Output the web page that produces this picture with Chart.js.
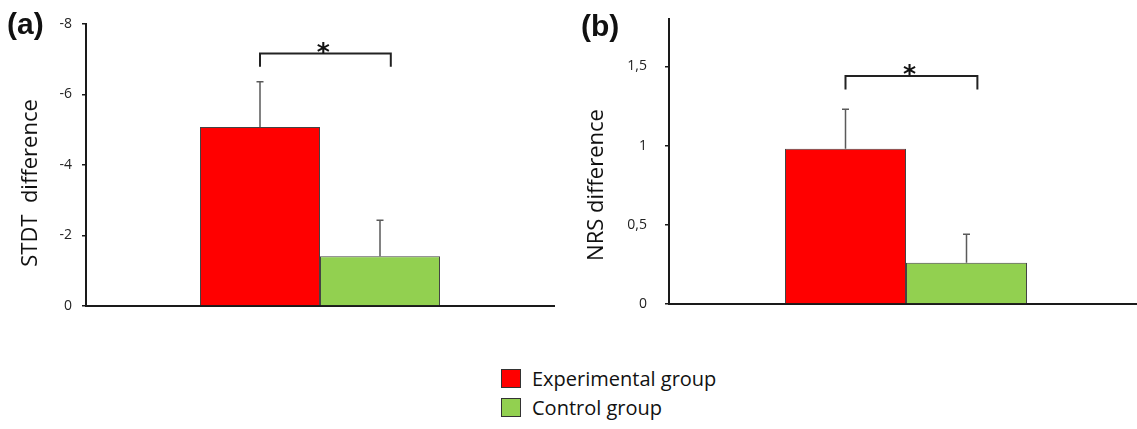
<!DOCTYPE html>
<html>
<head>
<meta charset="utf-8">
<script src="https://cdn.jsdelivr.net/npm/chart.js@4.4.0/dist/chart.umd.min.js"></script>
<style>
  body { margin: 0; background: #fff; }
  #page { position: relative; width: 1137px; height: 429px; overflow: hidden; font-family: "Open Sans", sans-serif; }
  #chartA { position: absolute; left: 0; top: 0; }
  #chartB { position: absolute; left: 570px; top: 0; }
  .tag { position: absolute; font: bold 30px "Liberation Sans", Arial, sans-serif; line-height: 30px; color: #111; }
  #legend { position: absolute; left: 501px; top: 369px; }
  .item { display: flex; align-items: center; height: 19px; margin-bottom: 10px; }
  .box { width: 18px; height: 17px; border: 1px solid #333; margin-right: 11px; }
  .item span { font-size: 20px; color: #111; }
</style>
</head>
<body>
<div id="page">
  <canvas id="chartA" width="560" height="330"></canvas>
  <canvas id="chartB" width="573" height="330"></canvas>
  <div class="tag" style="left:7px;top:9px">(a)</div>
  <div class="tag" style="left:581px;top:11px">(b)</div>
  <div id="legend"></div>
</div>
<script>
// one unnamed category, two groups
const categories = [''];
const seriesNames = ['Experimental group', 'Control group'];
const seriesColors = ['#ff0000', '#92d050'];

// (a) STDT difference, mean and SE (upward)
const stdtMeans = [-5.08, -1.41];
const stdtErrors = [1.28, 1.02];
const stdtTicks = [0, -2, -4, -6, -8];

// (b) NRS difference
const nrsMeans = [0.98, 0.26];
const nrsErrors = [0.25, 0.18];
const nrsTicks = [0, 0.5, 1, 1.5];

const axisColor = '#1a1a1a';
const tickFont = { family: 'Open Sans', size: 14 };

const errorBars = {
  id: 'errorBars',
  afterDatasetsDraw(chart) {
    const { ctx, scales: { y } } = chart;
    ctx.save();
    ctx.strokeStyle = '#5a5a5a';
    ctx.lineWidth = 1.5;
    chart.data.datasets.forEach((ds, i) => {
      chart.getDatasetMeta(i).data.forEach((bar, j) => {
        const v = ds.data[j];
        const top = y.getPixelForValue(v + Math.sign(v) * ds.errors[j]);
        ctx.beginPath();
        ctx.moveTo(bar.x, bar.y);
        ctx.lineTo(bar.x, top);
        ctx.moveTo(bar.x - 3.5, top);
        ctx.lineTo(bar.x + 3.5, top);
        ctx.stroke();
      });
    });
    ctx.restore();
  }
};

const bracket = {
  id: 'bracket',
  afterDraw(chart, args, o) {
    const { ctx, scales: { y } } = chart;
    const a = chart.getDatasetMeta(0).data[0];
    const b = chart.getDatasetMeta(1).data[0];
    const x1 = a.x, x2 = b.x + b.width * 0.09;
    const yl = y.getPixelForValue(o.level), yd = y.getPixelForValue(o.drop);
    ctx.save();
    ctx.strokeStyle = '#222';
    ctx.lineWidth = 2;
    ctx.beginPath();
    ctx.moveTo(x1, yd);
    ctx.lineTo(x1, yl);
    ctx.lineTo(x2, yl);
    ctx.lineTo(x2, yd);
    ctx.stroke();
    ctx.fillStyle = '#111';
    ctx.font = 'bold 25px "DejaVu Sans"';
    ctx.textAlign = 'center';
    ctx.textBaseline = 'alphabetic';
    ctx.fillText('*', (x1 + x2) / 2 - 2, yl + 6);
    ctx.restore();
  }
};

const yTitle = {
  id: 'yTitle',
  afterDraw(chart, args, o) {
    const ctx = chart.ctx;
    ctx.save();
    ctx.translate(o.x, o.y);
    ctx.rotate(-Math.PI / 2);
    ctx.font = '22px "Open Sans"';
    ctx.fillStyle = '#111';
    ctx.textAlign = 'center';
    ctx.textBaseline = 'middle';
    ctx.fillText(o.text, 0, 0);
    ctx.restore();
  }
};

function makeChart(id, means, errors, ticks, opts) {
  return new Chart(document.getElementById(id), {
    type: 'bar',
    data: {
      labels: categories,
      datasets: seriesNames.map((name, i) => ({
        label: name,
        data: [means[i]],
        errors: [errors[i]],
        backgroundColor: seriesColors[i],
        borderColor: '#444',
        borderWidth: 1,
        barPercentage: 1,
        categoryPercentage: opts.groupShare
      }))
    },
    options: {
      responsive: false,
      animation: false,
      layout: { autoPadding: false, padding: { top: opts.top, right: opts.right, left: 0, bottom: 0 } },
      plugins: {
        legend: { display: false },
        tooltip: { enabled: false },
        bracket: { level: opts.level, drop: opts.drop },
        yTitle: { text: opts.title, x: opts.titleX, y: opts.titleY }
      },
      scales: {
        x: {
          grid: { display: false },
          ticks: { display: false },
          border: { color: axisColor, width: 2 },
          afterFit: s => { s.height = opts.xHeight; }
        },
        y: {
          min: opts.min,
          max: opts.max,
          reverse: opts.reverse,
          // fixed axis width; tick padding must not push the plot area
          afterFit: s => { s.width = opts.yWidth; s.paddingTop = 0; s.paddingBottom = 0; },
          afterBuildTicks: s => { s.ticks = ticks.map(v => ({ value: v })); },
          grid: { drawOnChartArea: false, tickLength: 4, color: axisColor, lineWidth: 1.5 },
          border: { color: axisColor, width: 2 },
          ticks: {
            padding: opts.pad,
            color: '#222',
            font: tickFont,
            callback: v => String(v).replace('.', ',')
          }
        }
      }
    },
    plugins: [errorBars, bracket, yTitle]
  });
}

makeChart('chartA', stdtMeans, stdtErrors, stdtTicks, {
  top: 24, right: 6, xHeight: 24, yWidth: 86, min: -8, max: 0, reverse: true, pad: 10,
  groupShare: 240 / 468,
  level: -7.16, drop: -6.79, title: 'STDT  difference', titleX: 31, titleY: 183
});
makeChart('chartB', nrsMeans, nrsErrors, nrsTicks, {
  top: 19, right: 0, xHeight: 26, yWidth: 99, min: 0, max: 1.8, reverse: false, pad: 18,
  groupShare: 242 / 474,
  level: 1.44, drop: 1.355, title: 'NRS difference', titleX: 27, titleY: 185
});

// shared legend below both panels
const legend = document.getElementById('legend');
seriesNames.forEach((name, i) => {
  const row = document.createElement('div');
  row.className = 'item';
  row.innerHTML = '<div class="box" style="background:' + seriesColors[i] + '"></div><span>' + name + '</span>';
  legend.appendChild(row);
});
</script>
</body>
</html>
